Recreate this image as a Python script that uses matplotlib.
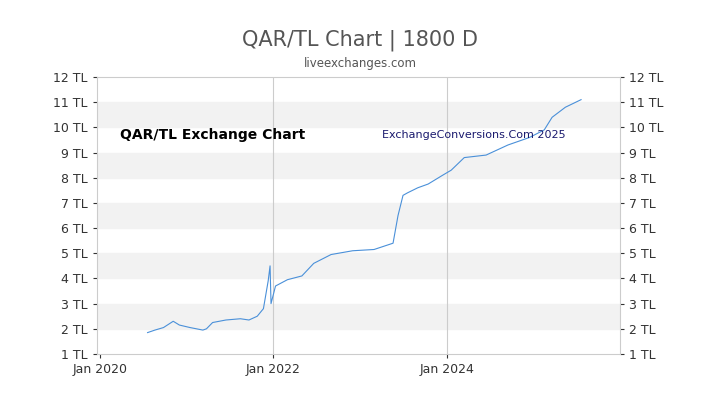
import matplotlib
matplotlib.use("Agg")
import matplotlib.pyplot as plt
import matplotlib.dates as mdates
from datetime import datetime

dates = ["2020-07-20", "2020-08-20", "2020-09-25", "2020-11-05", "2020-12-01", "2021-01-15",
         "2021-03-10", "2021-03-25", "2021-04-20", "2021-06-15", "2021-08-15", "2021-09-20",
         "2021-10-25", "2021-11-20", "2021-12-10", "2021-12-18", "2021-12-22", "2022-01-10",
         "2022-03-01", "2022-05-01", "2022-06-20", "2022-09-01", "2022-12-01", "2023-03-01",
         "2023-05-20", "2023-06-10", "2023-07-01", "2023-07-20", "2023-09-01", "2023-10-15",
         "2023-12-15", "2024-01-20", "2024-03-15", "2024-06-15", "2024-09-15", "2024-12-15",
         "2025-02-15", "2025-03-20", "2025-05-15", "2025-07-20"]
rates = [1.85, 1.95, 2.05, 2.3, 2.15, 2.05,
         1.95, 2.0, 2.25, 2.35, 2.4, 2.35,
         2.5, 2.8, 3.9, 4.5, 3.0, 3.7,
         3.95, 4.1, 4.6, 4.95, 5.1, 5.15,
         5.4, 6.5, 7.3, 7.4, 7.6, 7.75,
         8.1, 8.3, 8.8, 8.9, 9.3, 9.6,
         9.9, 10.4, 10.8, 11.1]
yticks = list(range(1, 13))
ytick_labels = [f"{v} TL" for v in yticks]

x = [datetime.strptime(d, "%Y-%m-%d") for d in dates]

fig = plt.figure(figsize=(7.2, 4.05), dpi=100)
ax = fig.add_axes([97/720, 1-354/405, 523/720, 277/405])

for lo in range(2, 12, 2):
    ax.axhspan(lo, lo+1, color="#f2f2f2", zorder=0)
for yr in (2022, 2024):
    ax.axvline(datetime(yr, 1, 1), color="#cccccc", lw=0.8, zorder=1)

ax.plot(x, rates, color="#4a90d9", lw=0.8, zorder=3)

ax.set_ylim(1, 12)
ax.set_xlim(datetime(2019, 12, 20), datetime(2025, 12, 31))
ax.set_yticks(yticks)
ax.set_yticklabels(ytick_labels)
ax.xaxis.set_major_locator(mdates.YearLocator(2))
ax.xaxis.set_major_formatter(mdates.DateFormatter("Jan %Y"))
ax.tick_params(axis="y", which="both", right=True, labelright=True, length=3, colors="#333333", labelsize=9)
ax.tick_params(axis="x", length=3, colors="#333333", labelsize=9)
for s in ax.spines.values():
    s.set_color("#cccccc")

fig.text(0.5, 1-40/405, "QAR/TL Chart | 1800 D", ha="center", va="center", fontsize=15, color="#555555")
fig.text(0.5, 1-63/405, "liveexchanges.com", ha="center", va="center", fontsize=8.5, color="#555555")
fig.text(120/720, 1-135/405, "QAR/TL Exchange Chart", ha="left", va="center", fontsize=10,
         fontweight="bold", color="black")
fig.text(382/720, 1-135/405, "ExchangeConversions.Com 2025", ha="left", va="center", fontsize=8,
         color="#1a1a6e")

fig.savefig("out.png", dpi=100)
